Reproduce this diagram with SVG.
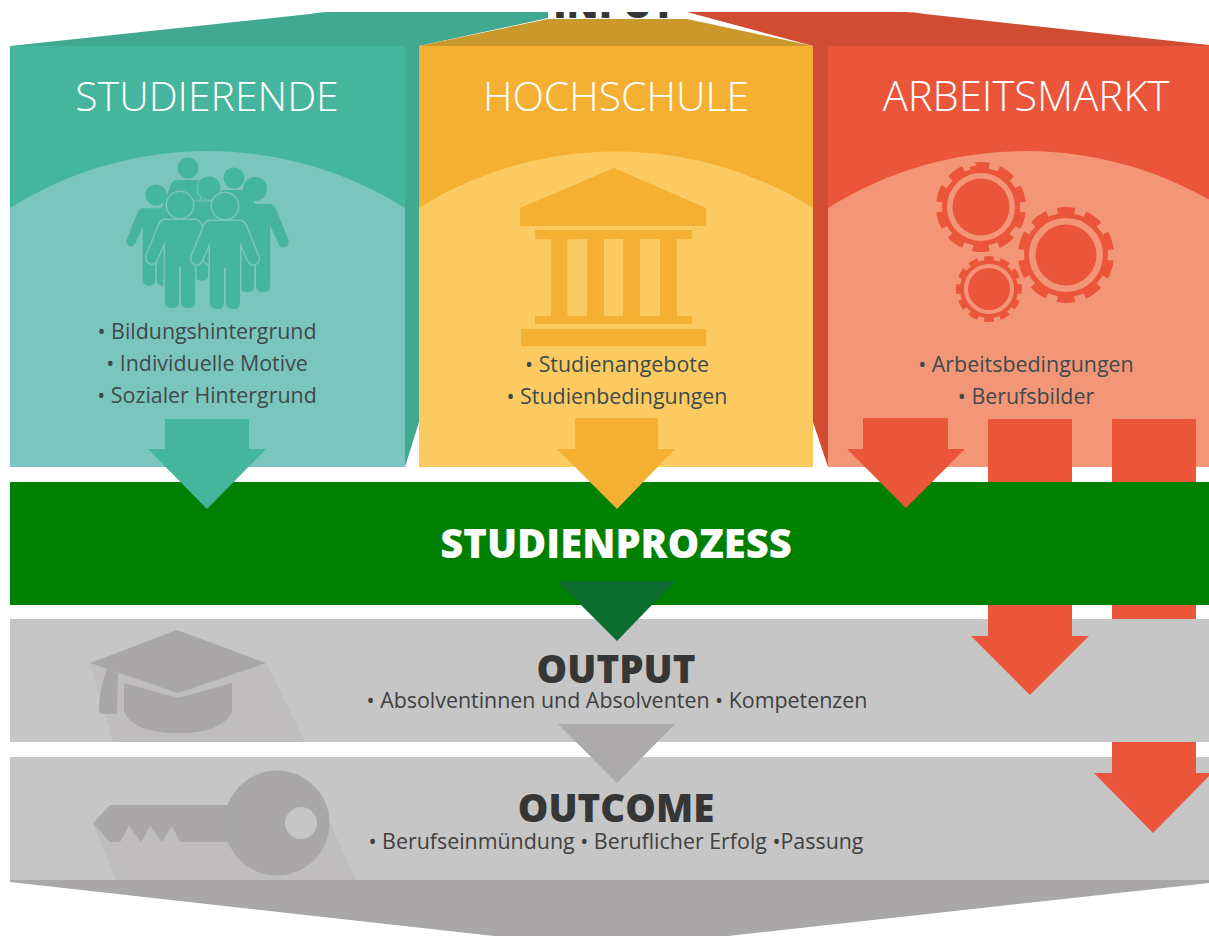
<svg xmlns="http://www.w3.org/2000/svg" width="1209" height="936" viewBox="0 0 1209 936">
<style>
text{font-family:"Open Sans","Noto Sans","Liberation Sans",sans-serif;text-anchor:middle}
.title{font-size:41px;font-weight:340;fill:#fff}
.item{font-size:21.400px;font-weight:400;fill:#3f4a4c}
.big{font-size:38.500px;font-weight:800;fill:#363636}
.sub{font-size:21.400px;font-weight:400;fill:#404040}
.band{fill:#c6c6c6}
.teal{fill:#46b59d}.amber{fill:#f3b033}.red{fill:#eb563a}
</style>
<defs>
<clipPath id="inputClip"><rect x="548" y="12" width="139" height="8"/></clipPath>
<path id="person" d="M-14 15H14Q19 15 21 20L33 50Q35 56 30 58Q26 60 23 54L15 36V97Q15 103 8 103Q1 103 1 97V62H-1V97Q-1 103-8 103Q-15 103-15 97V36L-23 54Q-26 60-30 58Q-35 56-33 50L-21 20Q-19 15-14 15Z"/>
</defs>
<rect width="1209" height="936" fill="#fff"/>

<g id="input">
<path d="M10 46L310 14Q320 12 330 12H548V18L419 46Z" fill="#41a98f"/>
<path d="M687 12H905Q915 12 925 14L1209 45V46H813Z" fill="#d04c33"/>
<path d="M419 46L548 19H687L813 46Z" fill="#cb982b"/>
<rect x="548" y="12" width="139" height="7" fill="#fff"/>
<text x="614" y="17.500" class="big" clip-path="url(#inputClip)">INPUT</text>
</g>

<g id="studierende">
<path d="M405 46H419V422L405 467Z" fill="#41a98f"/>
<rect x="10" y="46" width="395" height="421" class="teal"/>
<path d="M10 208A371 371 0 0 1 405 208V467H10Z" fill="#7ac5bd"/>
<text x="207" y="111" class="title">STUDIERENDE</text>
<g class="teal">
<circle cx="188" cy="168" r="10.500"/><use href="#person" transform="translate(188 168) scale(.8)"/>
<circle cx="234" cy="178" r="10.500"/><use href="#person" transform="translate(234 178) scale(.8)"/>
<g stroke="#7ac5bd" stroke-width="2" paint-order="stroke">
<use href="#person" transform="translate(209 188) scale(.9)"/><circle cx="209" cy="188" r="11.500"/>
</g>
<use href="#person" transform="translate(156 195) scale(.88)"/><circle cx="156" cy="195" r="10.500"/>
<use href="#person" transform="translate(255 189)"/><circle cx="255" cy="189" r="12"/>
<g stroke="#7ac5bd" stroke-width="3" paint-order="stroke">
<use href="#person" transform="translate(180 205)"/><use href="#person" transform="translate(225 206)"/>
<circle cx="180" cy="205" r="13"/><circle cx="225" cy="206" r="13"/>
</g>
</g>
<text x="207" y="339" class="item">• Bildungshintergrund</text>
<text x="207" y="371" class="item">• Individuelle Motive</text>
<text x="207" y="403" class="item">• Sozialer Hintergrund</text>
</g>

<g id="hochschule">
<rect x="419" y="46" width="394" height="421" class="amber"/>
<path d="M419 208A371 371 0 0 1 813 208V467H419Z" fill="#fbcb62"/>
<text x="616" y="111" class="title">HOCHSCHULE</text>
<g class="amber">
<path d="M614 168L706 208V226H520V208Z"/>
<rect x="535" y="230" width="157" height="9"/>
<rect x="551" y="239" width="16.500" height="77"/><rect x="587" y="239" width="17" height="77"/>
<rect x="623" y="239" width="17" height="77"/><rect x="660" y="239" width="17" height="77"/>
<rect x="535" y="316" width="157" height="8"/>
<rect x="521" y="329" width="185" height="17"/>
</g>
<text x="617" y="372" class="item">• Studienangebote</text>
<text x="617" y="404" class="item">• Studienbedingungen</text>
</g>

<g id="arbeitsmarkt">
<path d="M813 46H828V467L813 422Z" fill="#d04c33"/>
<rect x="828" y="46" width="381" height="421" class="red"/>
<path d="M828 208A371 371 0 0 1 1223 208V467H828Z" fill="#f39677"/>
<text x="1026" y="111" class="title" style="font-size:41.800px">ARBEITSMARKT</text>
<g fill="none" stroke="#eb563a">
<circle cx="981" cy="207" r="36.500" stroke-width="5"/>
<circle cx="981" cy="207" r="41.500" stroke-width="7" pathLength="100" stroke-dasharray="6.200 3.800" transform="rotate(-101 981 207)"/>
<circle cx="1066" cy="255" r="39.500" stroke-width="5"/>
<circle cx="1066" cy="255" r="44.500" stroke-width="7" pathLength="100" stroke-dasharray="6.200 3.800" transform="rotate(-101 1066 255)"/>
<circle cx="989" cy="289" r="27" stroke-width="4"/>
<circle cx="989" cy="289" r="30.500" stroke-width="5" pathLength="100" stroke-dasharray="5 3.333" transform="rotate(-99 989 289)"/>
</g>
<g class="red">
<circle cx="981" cy="207" r="28.500"/><circle cx="1066" cy="255" r="30.500"/><circle cx="989" cy="289" r="21"/>
</g>
<text x="1026" y="372" class="item">• Arbeitsbedingungen</text>
<text x="1026" y="404" class="item">• Berufsbilder</text>
</g>

<g id="studienprozess">
<rect x="10" y="482" width="1199" height="123" fill="#008000"/>
<text x="616" y="558" font-size="39.900" font-weight="800" fill="#fff">STUDIENPROZESS</text>
</g>

<g id="output">
<rect x="10" y="619" width="1199" height="123" class="band"/>
<path d="M90 664H267L305 742H113Z" fill="#bfbdbd"/>
<g fill="#a9a7a7">
<path d="M177 630L266 663L178 693L90 663Z"/>
<path d="M124 683L178 698L232 683V712Q222 733 178 733Q134 733 124 712Z"/>
<path d="M107 669L118 673L117 714H103Q98 714 99 708Q100 686 107 669Z"/>
</g>
<text x="616" y="683" class="big">OUTPUT</text>
<text x="617" y="708" class="sub">• Absolventinnen und Absolventen • Kompetenzen</text>
</g>

<g id="outcome">
<rect x="10" y="757" width="1199" height="123" class="band"/>
<path d="M93 823H330L356 880H116Z" fill="#bfbdbd"/>
<path d="M93 823L110 805H230V842H180L172 826L162 842L150 826L141 842L129 826L120 842H110Z" fill="#a9a7a7"/>
<circle cx="277" cy="823" r="52.500" fill="#a9a7a7"/>
<circle cx="301" cy="823" r="16" fill="#c6c6c6"/>
<text x="616" y="822" class="big">OUTCOME</text>
<text x="616" y="849" class="sub">• Berufseinmündung • Beruflicher Erfolg •Passung</text>
</g>

<g id="impact">
<path d="M10 880H1209V883L610 949L10 882Z" fill="#a9a7a7"/>
</g>

<g id="connectors">
<path class="teal" d="M165 419H249V449H266L207 509L148 449H165Z"/>
<path class="amber" d="M575 418H658V449H675L617 509L557 449H575Z"/>
<path class="red" d="M863 418H948V449H965L906 508L847 449H863Z"/>
<path class="red" d="M988 419H1072V482H988ZM988 605H1072V636H1089L1030 695L971 636H988Z"/>
<path class="red" d="M1112 419H1196V482H1112ZM1112 605H1196V619H1112ZM1112 742H1196V773H1212L1153 833L1094 773H1112Z"/>
<path d="M557 581H675L617 641Z" fill="#0b6d31"/>
<path d="M558 724H675L617 783Z" fill="#acaaaa"/>
</g>
</svg>
